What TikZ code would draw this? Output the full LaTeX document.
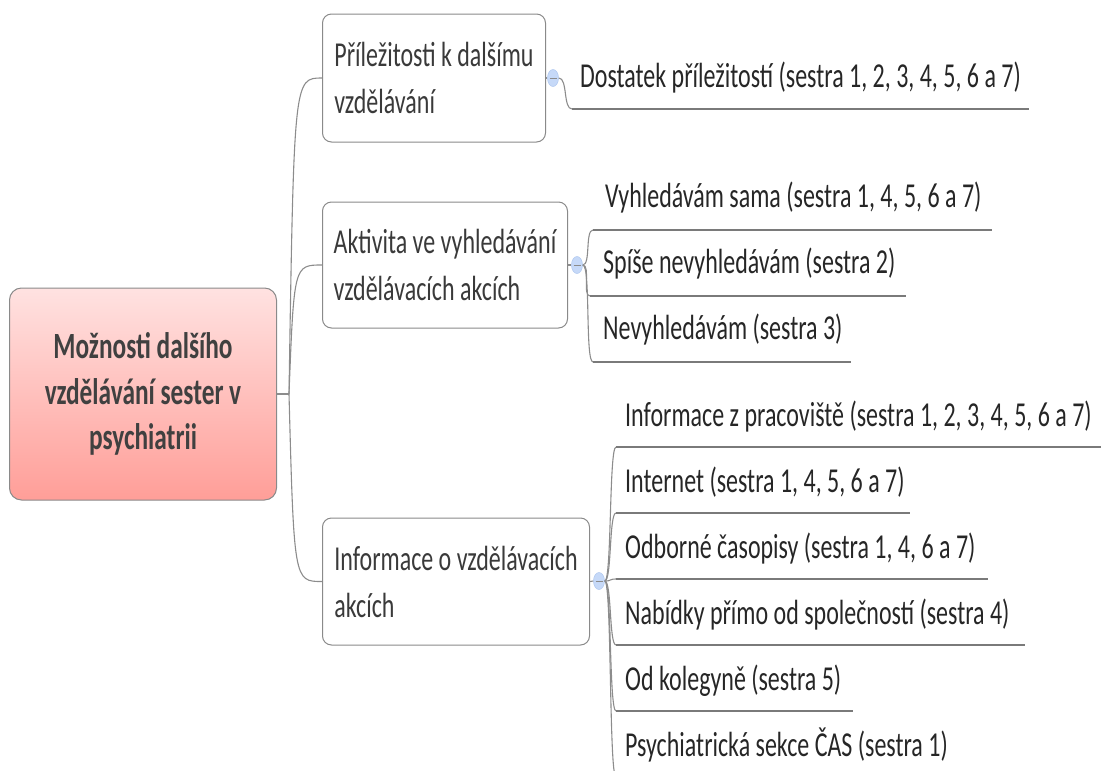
\documentclass[tikz,border=0pt]{standalone}
\usepackage{fontspec}
\setmainfont{Carlito}[FakeStretch=0.685]
\usetikzlibrary{calc,shapes.geometric}
\definecolor{linegray}{HTML}{8C8C8C}
\definecolor{ulgray}{HTML}{7A7A7A}
\definecolor{boxborder}{HTML}{8A8A8A}
\definecolor{txt}{HTML}{262626}
\definecolor{boxtxt}{HTML}{3A3A3A}
\definecolor{roottxt}{HTML}{404040}
\definecolor{rtop}{HTML}{FFE2E1}
\definecolor{rbot}{HTML}{FF9E98}
\definecolor{btnfill}{HTML}{C6D9F8}
\definecolor{btnline}{HTML}{B4CBF1}
\begin{document}
\begin{tikzpicture}[x=1pt,y=-1pt,
  conn/.style={draw=linegray, line width=1.1pt},
  uline/.style={draw=ulgray, line width=1.3pt},
  topic/.style={draw=boxborder, line width=1pt, rounded corners=9pt, fill=white,
    inner xsep=0pt, inner ysep=0pt, anchor=west, align=left,
    font=\fontsize{35}{47}\selectfont, text=boxtxt},
  rootbox/.style={draw=boxborder, line width=1pt, rounded corners=12pt,
    top color=rtop, bottom color=rbot, minimum width=267pt, minimum height=212pt,
    align=center, font=\fontsize{37}{45.5}\selectfont\bfseries, text=roottxt},
  leaf/.style={anchor=base west, inner sep=0pt, font=\fontsize{35}{42}\selectfont, text=txt},
  btn/.style={ellipse, draw=btnline, fill=btnfill, minimum width=11pt, minimum height=17pt, inner sep=0pt, line width=0.6pt,
    path picture={\draw[linegray, line width=0.8pt]
      ([xshift=-3.5pt]path picture bounding box.center) -- ([xshift=3.5pt]path picture bounding box.center);}},
]
\useasboundingbox (0,0) rectangle (1101,771);
\clip (0,0) rectangle (1101,771);

% root
\node[rootbox] (root) at (143,394) {Možnosti dalšího\\vzdělávání sester v\\psychiatrii};
\coordinate (fork) at (289,394);

% main topics
\node[topic, minimum width=223pt, minimum height=128pt] (b1) at (322,78)
  {Příležitosti k dalšímu\\vzdělávání};
\node[topic, minimum width=245pt, minimum height=126pt] (b2) at (322,265)
  {Aktivita ve vyhledávání\\vzdělávacích akcích};
\node[topic, minimum width=267pt, minimum height=127pt] (b3) at (322,581.5)
  {Informace o vzdělávacích\\akcích};

\draw[conn] (root.east) -- (fork);
\draw[conn] (fork) .. controls ($(b1.west)+(-28,0)$) .. (b1.west);
\draw[conn] (fork) .. controls ($(b2.west)+(-28,0)$) .. (b2.west);
\draw[conn] (fork) .. controls ($(b3.west)+(-28,0)$) .. (b3.west);

% collapse buttons
\node[btn] (c1) at (553,78) {};
\node[btn] (c2) at (577,265) {};
\node[btn] (c3) at (599,581) {};
\draw[conn] (b1.east) -- (c1.west);
\draw[conn] (b2.east) -- (c2.west);
\draw[conn] (b3.east) -- (c3.west);

% group 1
\coordinate (u1s) at (572,109); \coordinate (u1e) at (1029,109);
\node[leaf] (l1) at (580,87) {Dostatek příležitostí (sestra 1, 2, 3, 4, 5, 6 a 7)};
\draw[conn] (c1.east) .. controls +(9,0) and +(-9,0) .. (u1s);
\draw[uline] (u1s) -- (u1e);

% group 2
\coordinate (u2as) at (593,230); \coordinate (u2ae) at (992,230);
\coordinate (u2bs) at (590,296); \coordinate (u2be) at (906,296);
\coordinate (u2cs) at (593,362); \coordinate (u2ce) at (851,362);
\node[leaf] (l2a) at (605,207) {Vyhledávám sama (sestra 1, 4, 5, 6 a 7)};
\node[leaf] (l2b) at (603,273) {Spíše nevyhledávám (sestra 2)};
\node[leaf] (l2c) at (603,339) {Nevyhledávám (sestra 3)};
\foreach \u in {u2a,u2b,u2c}{
  \draw[conn] (c2.east) .. controls +(8,0) and +(-8,0) .. (\u s);
  \draw[uline] (\u s) -- (\u e);
}

% group 3
\coordinate (u3as) at (616,447); \coordinate (u3ae) at (1110,447);
\coordinate (u3bs) at (616,513); \coordinate (u3be) at (910,513);
\coordinate (u3cs) at (616,579); \coordinate (u3ce) at (988,579);
\coordinate (u3ds) at (616,645); \coordinate (u3de) at (1025,645);
\coordinate (u3es) at (616,711); \coordinate (u3ee) at (853,711);
\coordinate (u3fs) at (616,777); \coordinate (u3fe) at (965,777);
\node[leaf] (l3a) at (625,426) {Informace z pracoviště (sestra 1, 2, 3, 4, 5, 6 a 7)};
\node[leaf] (l3b) at (625,492) {Internet (sestra 1, 4, 5, 6 a 7)};
\node[leaf] (l3c) at (625,558) {Odborné časopisy (sestra 1, 4, 6 a 7)};
\node[leaf] (l3d) at (625,624) {Nabídky přímo od společností (sestra 4)};
\node[leaf] (l3e) at (625,690) {Od kolegyně (sestra 5)};
\node[leaf] (l3f) at (625,756) {Psychiatrická sekce ČAS (sestra 1)};
\foreach \u in {u3a,u3b,u3c,u3d,u3e,u3f}{
  \draw[conn] (c3.east) .. controls +(7,0) and +(-7,0) .. (\u s);
  \draw[uline] (\u s) -- (\u e);
}
\end{tikzpicture}
\end{document}
